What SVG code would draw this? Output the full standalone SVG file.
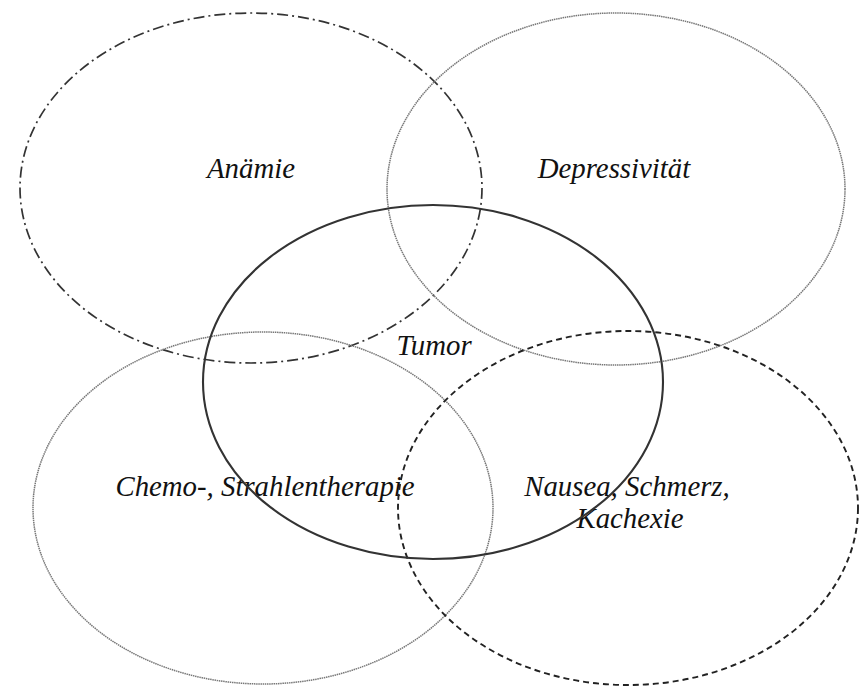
<svg xmlns="http://www.w3.org/2000/svg" width="861" height="690" viewBox="0 0 861 690">
<style>
.e{fill:none}
.dashdot{stroke:#333;stroke-width:1.7;stroke-dasharray:11 4 2 4}
.dotted{stroke:#777;stroke-width:1.5;stroke-dasharray:1.5 0.7}
.solid{stroke:#333;stroke-width:2.1}
.dashed{stroke:#222;stroke-width:1.9;stroke-dasharray:6 4}
text{font-family:"Liberation Serif","Times New Roman",serif;font-style:italic;font-size:28.8px;fill:#111;text-anchor:middle}
</style>
<rect width="861" height="690" fill="#fff"/>
<g id="anaemie"><ellipse class="e dashdot" cx="251" cy="188" rx="231" ry="175"/><text x="251" y="178">Anämie</text></g>
<g id="depressivitaet"><ellipse class="e dotted" cx="616" cy="189" rx="229" ry="176"/><text x="614" y="178">Depressivität</text></g>
<g id="chemo"><ellipse class="e dotted" cx="263" cy="508" rx="230" ry="176"/><text x="265" y="496">Chemo-, Strahlentherapie</text></g>
<g id="nausea"><ellipse class="e dashed" cx="628" cy="508" rx="230" ry="177"/><text x="627" y="496">Nausea, Schmerz,</text><text x="630" y="528">Kachexie</text></g>
<g id="tumor"><ellipse class="e solid" cx="433" cy="382" rx="230" ry="177"/><text x="434" y="355">Tumor</text></g>
<g id="connectors"/>
</svg>
